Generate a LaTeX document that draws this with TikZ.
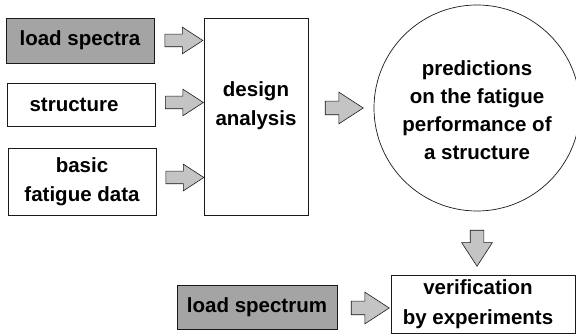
\documentclass[tikz,border=0pt]{standalone}
\usepackage{fontspec}
\setmainfont{Liberation Sans}
\usepackage{tikz}
\usetikzlibrary{calc,positioning,shapes.arrows}
\definecolor{ink}{HTML}{1A1A1A}
\definecolor{paper}{HTML}{FFFFFF}
\definecolor{boxshade}{HTML}{A4A4A4}
\definecolor{arrowshade}{HTML}{C4C4C4}
\tikzset{
  plainbox/.style={draw=ink,fill=paper,line width=0.7pt,inner sep=0pt,align=center,font=\bfseries\fontsize{20.5}{29}\selectfont},
  shadebox/.style={plainbox,fill=boxshade},
  fatarrow/.style={single arrow,draw=ink,fill=arrowshade,line width=0.6pt,inner xsep=0pt,inner ysep=6pt,
    single arrow head extend=7pt,single arrow tip angle=66,minimum height=38pt},
  bigarrow/.style={fatarrow,inner ysep=6.5pt,single arrow head extend=9pt,minimum height=38pt},
  txt/.style={inner sep=0pt,align=center,font=\bfseries\fontsize{20.5}{29}\selectfont}
}
\begin{document}
\begin{tikzpicture}[x=1pt,y=-1pt]
  \useasboundingbox (0,0) rectangle (576,336);
  \begin{scope}
  \clip (0,0) rectangle (576,336);
  % input boxes on the left
  \node[shadebox,minimum width=148pt,minimum height=45pt] (spectra) at (80,40.5) {load spectra};
  \node[plainbox,minimum width=148pt,minimum height=43pt] (struct) at (81,104.5) {structure\hspace*{14pt}};
  \node[plainbox,minimum width=148pt,minimum height=67pt] (basic) at (82,181.5) {basic\\fatigue data};
  % analysis and prediction
  \node[plainbox,minimum width=104pt,minimum height=197pt] (design) at (256,116.5) {};
  \node[txt] (designtxt) at ([yshift=11pt]design.center) {design\\analysis};
  \node[circle,draw=ink,line width=0.7pt,minimum size=206pt,inner sep=0pt] (pred) at (477,108) {};
  \node[txt,font=\bfseries\fontsize{20.5}{28}\selectfont] (predtxt) at ([yshift=-2pt]pred.center) {predictions\\on the fatigue\\performance of\\a structure};
  % verification row
  \node[plainbox,minimum width=184pt,minimum height=58pt] (verif) at (483,304) {};
  \node[txt,font=\bfseries\fontsize{20.5}{30}\selectfont] (veriftxt) at ([xshift=-5pt]verif.center) {verification\\by experiments};
  \node[shadebox,minimum width=160pt,minimum height=44pt] (loadsp) at (257,307) {load spectrum};
  \end{scope}
  % block arrows
  \node[fatarrow] (arrA) at ($(spectra.east)!0.5!(design.west |- spectra.east)$) {};
  \node[fatarrow] (arrB) at ($(struct.east)!0.5!(design.west |- struct.east)+(0,-2)$) {};
  \node[fatarrow] (arrC) at ($(basic.east)!0.5!(design.west |- basic.east)+(0,-4)$) {};
  \node[bigarrow] (arrD) at ($(design.east |- pred.west)!0.5!(pred.west)+(-2,0)$) {};
  \node[bigarrow,rotate=-90,minimum height=36pt,single arrow head extend=8.5pt] (arrE) at ($(pred.south)!0.5!(pred.south |- verif.north)$) {};
  \node[bigarrow] (arrF) at ($(loadsp.east)!0.5!(verif.west |- loadsp.east)+(1,1)$) {};
\end{tikzpicture}
\end{document}
